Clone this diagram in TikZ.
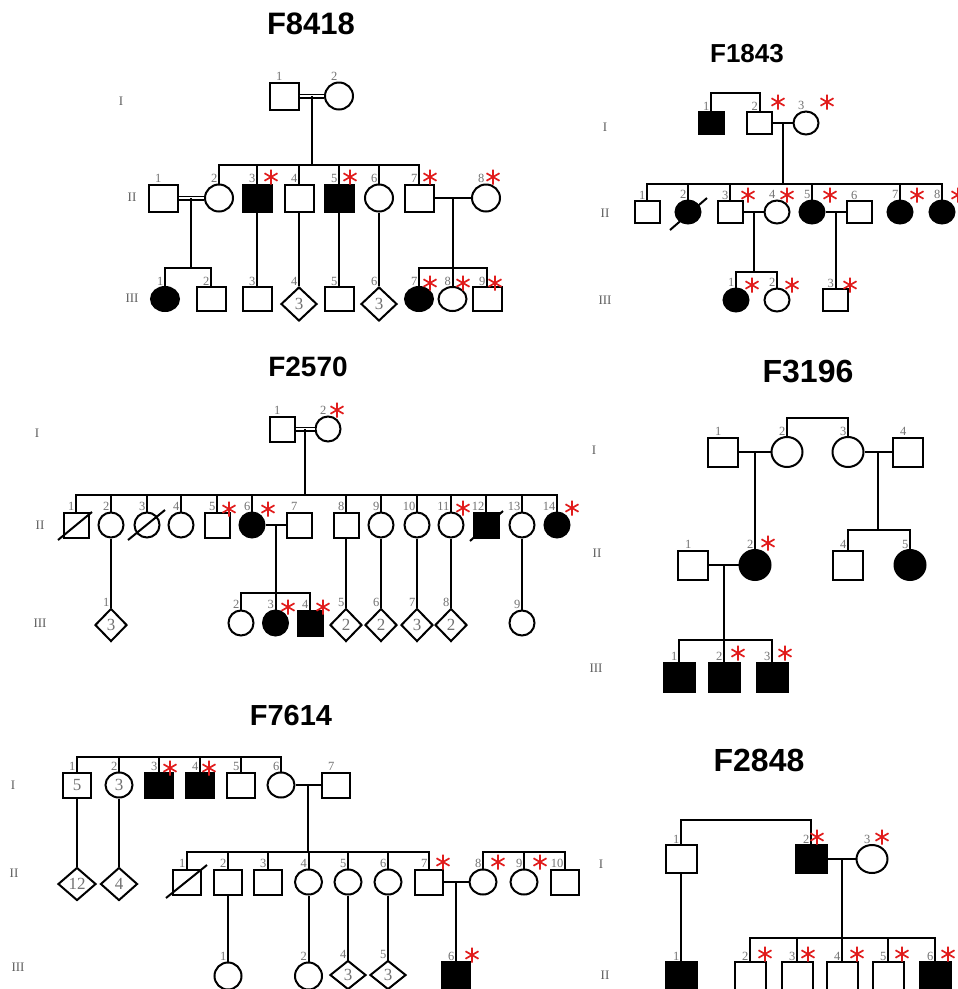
\documentclass[tikz,border=0pt]{standalone}
\usepackage{fontspec}
\setmainfont{Liberation Serif}
\newfontfamily\titlefont{Liberation Sans}
\usetikzlibrary{shapes.geometric,calc}
\definecolor{starred}{RGB}{225,28,28}
\definecolor{labgray}{RGB}{115,115,115}
\definecolor{gengray}{RGB}{95,95,95}
\tikzset{
  pl/.style={line width=2pt},
  cons/.style={line width=1.5pt, double=white, double distance=2pt},
  msize/.style={minimum width=28pt, minimum height=27pt},
  fsize/.style={minimum width=28pt, minimum height=27pt},
  usize/.style={minimum width=36pt, minimum height=34pt},
  sym/.style={draw, line width=2pt, inner sep=0pt, text=labgray, font=\fontsize{17}{17}\selectfont},
  male/.style={sym, rectangle, msize},
  fem/.style={sym, ellipse, fsize},
  unk/.style={sym, diamond, usize},
  aff/.style={fill=black},
  idn/.style={label={[numlab]north:#1}},
  numlab/.style={anchor=south east, inner sep=0.5pt, xshift=-1pt, text=labgray, font=\fontsize{12.5}{12.5}\selectfont},
  gen/.style={text=gengray, font=\fontsize{13}{13}\selectfont},
  ttl/.style={font=\titlefont\bfseries\fontsize{#1}{#1}\selectfont},
  astr/.pic={\draw[starred, line width=1.7pt] (0,-7.5)--(0,7.5) (-6.5,-3.75)--(6.5,3.75) (-6.5,3.75)--(6.5,-3.75);},
}
\begin{document}
\begin{tikzpicture}[x=1pt,y=-1pt]
\useasboundingbox (0,0) rectangle (958,989);
\clip (0,0) rectangle (958,989);
\fill[white] (0,0) rectangle (958,989);

%% ================= F8418 =================
\begin{scope}[msize/.style={minimum width=29pt,minimum height=27pt}, fsize/.style={minimum width=28pt,minimum height=27pt}]
\node[ttl=31] (pT) at (311,24) {F8418};
\node[gen] (pG1) at (121,101) {I};
\node[gen] (pG2) at (132,197) {II};
\node[gen] (pG3) at (132,298) {III};
\node[male, idn=1] (pA1) at (284,96) {};
\node[fem, idn=2] (pA2) at (339,96) {};
\draw[cons] (pA1.east) -- (pA2.west);
\coordinate (pA12) at ($(pA1.east)!.5!(pA2.west)$);
\path (pA12) ++(0,69) coordinate (pSA);
\draw[pl] (pA12) -- (pSA);
\node[male, idn=1] (pB1) at (163,198) {};
\node[fem, idn=2] (pB2) at (219,198) {};
\node[male, aff, idn=3] (pB3) at (257,198) {};
\node[male, idn=4] (pB4) at (299,198) {};
\node[male, aff, idn=5] (pB5) at (339,198) {};
\node[fem, idn=6] (pB6) at (379,198) {};
\node[male, idn=7] (pB7) at (419,198) {};
\node[fem, idn=8] (pB8) at (486,198) {};
\draw[pl] (pB2.north) |- (pSA) -| (pB7.north);
\foreach \k in {pB3,pB4,pB5,pB6} \draw[pl] (\k.north) -- (\k.north |- pSA);
\draw[cons] (pB1.east) -- (pB2.west);
\coordinate (pB12) at ($(pB1.east)!.5!(pB2.west)$);
\path (pB12) ++(0,70) coordinate (pSB1);
\draw[pl] (pB12) -- (pSB1);
\draw[pl] (pB7.east) -- (pB8.west);
\coordinate (pB78) at ($(pB7.east)!.5!(pB8.west)$);
\path (pB78) ++(0,70) coordinate (pSB2);
\draw[pl] (pB78) -- (pSB2);
\node[fem, aff, idn=1, minimum height=24pt] (pC1) at (165,299) {};
\node[male, idn=2, minimum height=24pt] (pC2) at (211,299) {};
\node[male, idn=3, minimum height=24pt] (pC3) at (257,299) {};
\node[unk, idn=4] (pC4) at (299,304) {3};
\node[male, idn=5, minimum height=24pt] (pC5) at (339,299) {};
\node[unk, idn=6] (pC6) at (379,304) {3};
\node[fem, aff, idn=7, minimum height=24pt] (pC7) at (419,299) {};
\node[fem, idn=8, minimum height=24pt] (pC8) at (452.5,299) {};
\node[male, idn=9, minimum height=24pt] (pC9) at (487,299) {};
\draw[pl] (pC1.north) |- (pSB1) -| (pC2.north);
\draw[pl] (pC7.north) |- (pSB2) -| (pC9.north);
\draw[pl] (pC8.north) -- (pC8.north |- pSB2);
\foreach \a/\b in {pB3/pC3,pB4/pC4,pB5/pC5,pB6/pC6} \draw[pl] (\a.south) -- (\b.north);
\foreach \p in {(271,177),(350,177),(430,177),(493,177),(430,283),(463,283),(495,283)} \pic at \p {astr};
\end{scope}

%% ================= F1843 =================
\begin{scope}[msize/.style={minimum width=25pt,minimum height=22pt}, fsize/.style={minimum width=25pt,minimum height=23pt}]
\node[ttl=26] (qT) at (747,54) {F1843};
\node[gen] (qG1) at (605,127) {I};
\node[gen] (qG2) at (605,213) {II};
\node[gen] (qG3) at (605,300) {III};
\node[male, aff, idn=1] (qA1) at (711,123) {};
\node[male, idn=2] (qA2) at (759.5,123) {};
\node[fem, idn=3] (qA3) at (806,123) {};
\coordinate (qTA) at (735,93);
\draw[pl] (qA1.north) |- (qTA) -| (qA2.north);
\draw[pl] (qA2.east) -- (qA3.west);
\coordinate (qA23) at ($(qA2.east)!.5!(qA3.west)$);
\path (qA23) ++(0,61) coordinate (qSA);
\draw[pl] (qA23) -- (qSA);
\node[male, idn=1] (qB1) at (647,212) {};
\node[fem, aff, idn=2] (qB2) at (688,212) {};
\node[male, idn=3] (qB3) at (730,212) {};
\node[fem, idn=4] (qB4) at (777,212) {};
\node[fem, aff, idn=5] (qB5) at (812,212) {};
\node[male, idn=6] (qB6) at (859,212) {};
\node[fem, aff, idn=7] (qB7) at (900,212) {};
\node[fem, aff, idn=8] (qB8) at (942,212) {};
\draw[pl] (qB1.north) |- (qSA) -| (qB8.north);
\foreach \k in {qB2,qB3,qB5,qB7} \draw[pl] (\k.north) -- (\k.north |- qSA);
\draw[pl] ([shift={(-18,18)}]qB2.center) -- ([shift={(19,-14)}]qB2.center);
\draw[pl] (qB3.east) -- (qB4.west);
\coordinate (qB34) at ($(qB3.east)!.5!(qB4.west)$);
\path (qB34) ++(0,60) coordinate (qSB);
\draw[pl] (qB34) -- (qSB);
\draw[pl] (qB5.east) -- (qB6.west);
\coordinate (qB56) at ($(qB5.east)!.5!(qB6.west)$);
\node[fem, aff, idn=1] (qC1) at (736,300) {};
\node[fem, idn=2] (qC2) at (777,300) {};
\node[male, idn=3] (qC3) at (835.5,300) {};
\draw[pl] (qC1.north) |- (qSB) -| (qC2.north);
\draw[pl] (qB56) -- (qB56 |- qC3.north);
\foreach \p in {(778,102),(827,102),(748,195),(787,195),(830,195),(917,195),(958,195),(752,285),(792,285),(850,285)} \pic at \p {astr};
\end{scope}

%% ================= F2570 =================
\begin{scope}[msize/.style={minimum width=25pt,minimum height=25pt}, fsize/.style={minimum width=25pt,minimum height=25pt}, usize/.style={minimum width=32pt,minimum height=33pt}]
\node[ttl=28] (rT) at (308,367) {F2570};
\node[gen] (rG1) at (37,433) {I};
\node[gen] (rG2) at (40,525) {II};
\node[gen] (rG3) at (40,623) {III};
\node[male, idn=1] (rA1) at (282,429) {};
\node[fem, idn=2] (rA2) at (328,429) {};
\draw[cons] (rA1.east) -- (rA2.west);
\coordinate (rA12) at ($(rA1.east)!.5!(rA2.west)$);
\path (rA12) ++(0,66) coordinate (rSA);
\draw[pl] (rA12) -- (rSA);
\node[male, idn=1] (rB1) at (76,525) {};
\node[fem, idn=2] (rB2) at (111,525) {};
\node[fem, idn=3] (rB3) at (147,525) {};
\node[fem, idn=4] (rB4) at (181,525) {};
\node[male, idn=5] (rB5) at (217,525) {};
\node[fem, aff, idn=6] (rB6) at (252,525) {};
\node[male, idn=7] (rB7) at (299,525) {};
\node[male, idn=8] (rB8) at (346,525) {};
\node[fem, idn=9] (rB9) at (381,525) {};
\node[fem, idn=10] (rB10) at (417,525) {};
\node[fem, idn=11] (rB11) at (451,525) {};
\node[male, aff, idn=12] (rB12) at (486,525) {};
\node[fem, idn=13] (rB13) at (522,525) {};
\node[fem, aff, idn=14] (rB14) at (557,525) {};
\draw[pl] (rB1.north) |- (rSA) -| (rB14.north);
\foreach \k in {rB2,rB3,rB4,rB5,rB6,rB8,rB9,rB10,rB11,rB12,rB13} \draw[pl] (\k.north) -- (\k.north |- rSA);
\draw[pl] ([shift={(-18,15)}]rB1.center) -- ([shift={(16,-13)}]rB1.center);
\draw[pl] ([shift={(-19,15)}]rB3.center) -- ([shift={(18,-15)}]rB3.center);
\draw[pl] ([shift={(-16,16)}]rB12.center) -- ([shift={(17,-14)}]rB12.center);
\draw[pl] (rB6.east) -- (rB7.west);
\coordinate (rB67) at ($(rB6.east)!.5!(rB7.west)$);
\path (rB67) ++(0,68) coordinate (rSB);
\draw[pl] (rB67) -- (rSB);
\node[unk, idn=1] (rC1) at (111,625) {3};
\node[fem, idn=2] (rC2) at (241,623) {};
\node[fem, aff, idn=3] (rC3) at (275.5,623) {};
\node[male, aff, idn=4] (rC4) at (310,623) {};
\node[unk, idn=5] (rC5) at (346,625) {2};
\node[unk, idn=6] (rC6) at (381,625) {2};
\node[unk, idn=7] (rC7) at (417,625) {3};
\node[unk, idn=8] (rC8) at (451,625) {2};
\node[fem, idn=9] (rC9) at (522,623) {};
\draw[pl] (rC2.north) |- (rSB) -| (rC4.north);
\draw[pl] (rC3.north) -- (rC3.north |- rSB);
\foreach \a/\b in {rB2/rC1,rB8/rC5,rB9/rC6,rB10/rC7,rB11/rC8,rB13/rC9} \draw[pl] (\a.south) -- (\b.north);
\foreach \p in {(337,410),(229,509),(268,509),(463,508),(572,508),(288,607),(323,607)} \pic at \p {astr};
\end{scope}

%% ================= F3196 =================
\begin{scope}[msize/.style={minimum width=30pt,minimum height=29pt}, fsize/.style={minimum width=31pt,minimum height=30pt}]
\node[ttl=32] (sT) at (808,372) {F3196};
\node[gen] (sG1) at (594,450) {I};
\node[gen] (sG2) at (597,553) {II};
\node[gen] (sG3) at (596,668) {III};
\node[male, idn=1] (sA1) at (723,452) {};
\node[fem, idn=2] (sA2) at (787,452) {};
\node[fem, idn=3] (sA3) at (848,452) {};
\node[male, idn=4] (sA4) at (908,452) {};
\coordinate (sTA) at (817,418);
\draw[pl] (sA2.north) |- (sTA) -| (sA3.north);
\draw[pl] (sA1.east) -- (sA2.west);
\coordinate (sA12) at ($(sA1.east)!.5!(sA2.west)$);
\draw[pl] (sA3.east) -- (sA4.west);
\coordinate (sA34) at ($(sA3.east)!.5!(sA4.west)$);
\path (sA34) ++(0,78) coordinate (sSA);
\draw[pl] (sA34) -- (sSA);
\node[male, idn=1] (sB1) at (693,565) {};
\node[fem, aff, idn=2] (sB2) at (755,565) {};
\node[male, idn=4] (sB4) at (848,565) {};
\node[fem, aff, idn=5] (sB5) at (910,565) {};
\draw[pl] (sA12) -- (sA12 |- sB2.north);
\draw[pl] (sB4.north) |- (sSA) -| (sB5.north);
\draw[pl] (sB1.east) -- (sB2.west);
\coordinate (sB12) at ($(sB1.east)!.5!(sB2.west)$);
\path (sB12) ++(0,75) coordinate (sSB);
\draw[pl] (sB12) -- (sSB);
\node[male, aff, idn=1, minimum width=31pt] (sC1) at (679,677) {};
\node[male, aff, idn=2, minimum width=31pt] (sC2) at (724,677) {};
\node[male, aff, idn=3, minimum width=31pt] (sC3) at (772,677) {};
\draw[pl] (sC1.north) |- (sSB) -| (sC3.north);
\draw[pl] (sC2.north) -- (sC2.north |- sSB);
\foreach \p in {(768,543),(738,653),(785,653)} \pic at \p {astr};
\end{scope}

%% ================= F7614 =================
\begin{scope}[msize/.style={minimum width=28pt,minimum height=25pt}, fsize/.style={minimum width=27pt,minimum height=25pt}]
\node[ttl=29] (tT) at (291,716) {F7614};
\node[gen] (tG1) at (13,785) {I};
\node[gen] (tG2) at (14,873) {II};
\node[gen] (tG3) at (18,967) {III};
\node[male, idn=1] (tA1) at (77,785) {5};
\node[fem, idn=2] (tA2) at (119,785) {3};
\node[male, aff, idn=3] (tA3) at (159,785) {};
\node[male, aff, idn=4] (tA4) at (200,785) {};
\node[male, idn=5] (tA5) at (241,785) {};
\node[fem, idn=6] (tA6) at (281,785) {};
\node[male, idn=7] (tA7) at (336,785) {};
\coordinate (tSA) at (180,757);
\draw[pl] (tA1.north) |- (tSA) -| (tA6.north);
\foreach \k in {tA2,tA3,tA4,tA5} \draw[pl] (\k.north) -- (\k.north |- tSA);
\draw[pl] (tA6.east) -- (tA7.west);
\coordinate (tA67) at ($(tA6.east)!.5!(tA7.west)$);
\path (tA67) ++(0,67) coordinate (tSB);
\draw[pl] (tA67) -- (tSB);
\node[unk, minimum width=38pt, minimum height=33pt] (tD1) at (77,884) {12};
\node[unk, minimum width=37pt, minimum height=33pt] (tD2) at (119,884) {4};
\draw[pl] (tA1.south) -- (tD1.north);
\draw[pl] (tA2.south) -- (tD2.north);
\node[male, idn=1] (tB1) at (187,882) {};
\node[male, idn=2] (tB2) at (228,882) {};
\node[male, idn=3] (tB3) at (268,882) {};
\node[fem, idn=4] (tB4) at (308.5,882) {};
\node[fem, idn=5] (tB5) at (348,882) {};
\node[fem, idn=6] (tB6) at (388,882) {};
\node[male, idn=7] (tB7) at (429,882) {};
\node[fem, idn=8] (tB8) at (483,882) {};
\node[fem, idn=9] (tB9) at (524,882) {};
\node[male, idn=10] (tB10) at (565,882) {};
\draw[pl] (tB1.north) |- (tSB) -| (tB7.north);
\foreach \k in {tB2,tB3,tB4,tB5,tB6} \draw[pl] (\k.north) -- (\k.north |- tSB);
\draw[pl] ([shift={(-21,16)}]tB1.center) -- ([shift={(20,-17)}]tB1.center);
\coordinate (tSC) at (524,852);
\draw[pl] (tB8.north) |- (tSC) -| (tB10.north);
\draw[pl] (tB9.north) -- (tB9.north |- tSC);
\draw[pl] (tB7.east) -- (tB8.west);
\coordinate (tB78) at ($(tB7.east)!.5!(tB8.west)$);
\node[fem, idn=1, minimum height=27pt] (tC1) at (228,976) {};
\node[fem, idn=2, minimum height=27pt] (tC2) at (308.5,976) {};
\node[unk, idn=4, minimum width=36pt, minimum height=29pt] (tC4) at (348,975) {3};
\node[unk, idn=5, minimum width=36pt, minimum height=29pt] (tC5) at (388,975) {3};
\node[male, aff, idn=6, minimum height=28pt] (tC6) at (456,976) {};
\foreach \a/\b in {tB2/tC1,tB4/tC2,tB5/tC4,tB6/tC5} \draw[pl] (\a.south) -- (\b.north);
\draw[pl] (tB78) -- (tB78 |- tC6.north);
\foreach \p in {(170,768),(209,768),(443,862),(498,862),(540,862),(472,955)} \pic at \p {astr};
\end{scope}

%% ================= F2848 =================
\begin{scope}[msize/.style={minimum width=31pt,minimum height=28pt}, fsize/.style={minimum width=31pt,minimum height=28pt}]
\node[ttl=32] (uT) at (759,760) {F2848};
\node[gen] (uG1) at (601,864) {I};
\node[gen] (uG2) at (605,975) {II};
\node[male, idn=1] (uA1) at (681,859) {};
\node[male, aff, idn=2] (uA2) at (811,859) {};
\node[fem, idn=3] (uA3) at (872,859) {};
\coordinate (uTA) at (745,820);
\draw[pl] (uA1.north) |- (uTA) -| (uA2.north);
\draw[pl] (uA2.east) -- (uA3.west);
\coordinate (uA23) at ($(uA2.east)!.5!(uA3.west)$);
\path (uA23) ++(0,79) coordinate (uSA);
\draw[pl] (uA23) -- (uSA);
\node[male, aff, idn=1, minimum height=30pt] (uB1) at (681,977) {};
\node[male, idn=2, minimum height=30pt] (uB2) at (750,977) {};
\node[male, idn=3, minimum height=30pt] (uB3) at (797,977) {};
\node[male, idn=4, minimum height=30pt] (uB4) at (842,977) {};
\node[male, idn=5, minimum height=30pt] (uB5) at (888,977) {};
\node[male, aff, idn=6, minimum height=30pt] (uB6) at (935,977) {};
\draw[pl] (uA1.south) -- (uB1.north);
\draw[pl] (uB2.north) |- (uSA) -| (uB6.north);
\foreach \k in {uB3,uB4,uB5} \draw[pl] (\k.north) -- (\k.north |- uSA);
\foreach \p in {(817,837),(882,837),(765,954),(808,954),(857,954),(902,954),(948,954)} \pic at \p {astr};
\end{scope}
\end{tikzpicture}
\end{document}
